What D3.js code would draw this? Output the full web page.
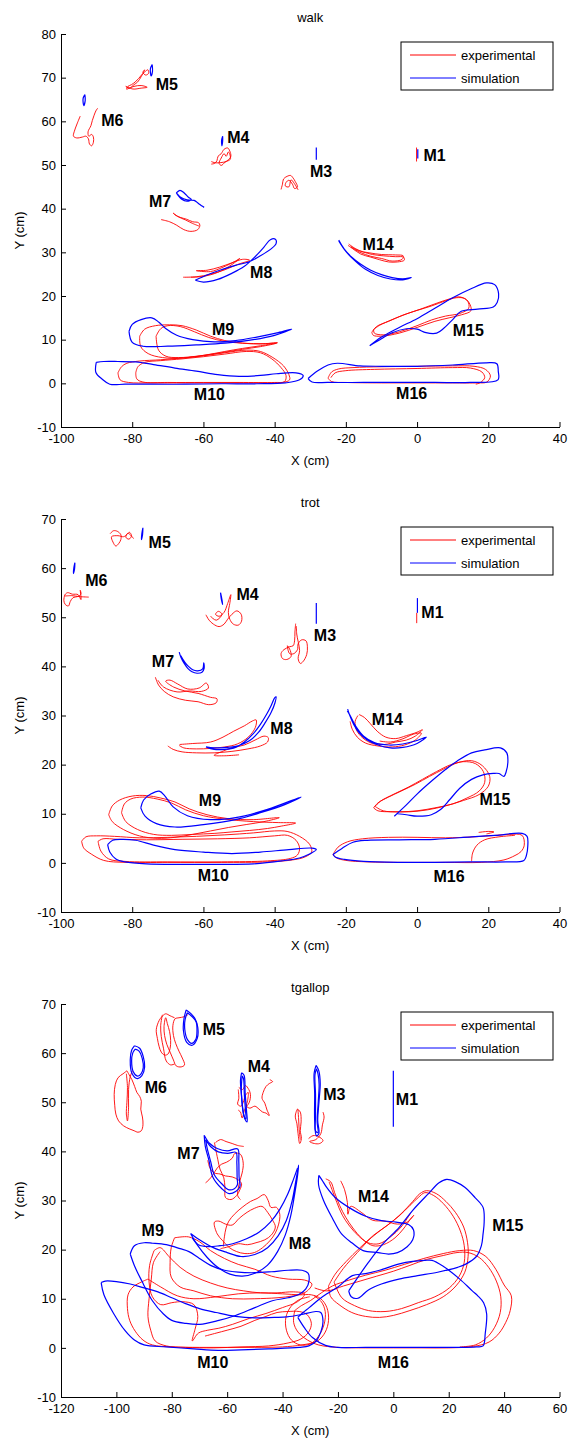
<!DOCTYPE html>
<html>
<head>
<meta charset="utf-8">
<script src="https://cdn.jsdelivr.net/npm/d3@7"></script>
<style>
body { margin: 0; background: #fff; }
text { font-family: "Liberation Sans", Arial, sans-serif; }
</style>
</head>
<body>
<div id="chart"></div>
<script>
// marker trajectories, in cm

// ---------- walk ----------
var walkSim = [
  [[0.2,53.6],[0.2,51.5]],                                                   // M1
  [[-28.3,54.0],[-28.3,51.2]],                                               // M3
  [[-54.6,56.6],[-54.9,55.6],[-54.8,54.4],[-54.6,55.5],[-54.6,56.6]],        // M4
  [[-74.4,73.0],[-74.9,72.0],[-74.7,70.4],[-74.3,71.5],[-74.4,73.0]],        // M5
  [[-93.3,66.1],[-93.8,65.2],[-93.6,63.6],[-93.2,64.8],[-93.3,66.1]],        // M6
  [[-67.6,43.6],[-66.6,44.2],[-65.4,43.6],[-64.2,42.6],[-63.4,42.1],[-64.6,41.7],[-66.2,42.2],[-67.6,43.6],
   [-66.4,42.6],[-64.6,42.0],[-62.6,41.9],[-61.4,41.2],[-60.4,40.6],[-59.8,40.3]],   // M7
  [[-62.3,23.6],[-60,23.2],[-56,23.8],[-52,25.2],[-48.5,26.8],[-45.5,29.0],[-43.0,31.2],[-41.2,32.9],
   [-39.8,33.0],[-39.6,32.0],[-41,30.8],[-44,29.2],[-47,27.9],[-51,27.0],[-55,26.0],[-59,24.8],[-62.3,23.6]], // M8
  [[-80.9,11.9],[-80,13.5],[-77.5,14.6],[-74.5,15.0],[-72.5,14.0],[-70.5,12.5],[-67.5,11.0],[-63,10.0],[-57,9.5],
   [-51,9.8],[-45,10.6],[-39,11.6],[-35.2,12.4],[-40,11.0],[-46,10.0],[-54,9.2],[-62,8.8],[-70,8.5],[-77,8.5],
   [-80,9.4],[-80.9,11.9]],                                                  // M9
  [[-90.1,4.8],[-88,5.0],[-84,5.0],[-79,4.9],[-74,4.3],[-68,3.5],[-62,2.8],[-56,2.0],[-50,1.6],[-44,1.8],
   [-39.5,2.2],[-34,2.4],[-32,1.8],[-33,0.8],[-37,0.1],[-45,-0.1],[-55,-0.1],[-65,-0.2],[-75,-0.2],[-82,-0.2],
   [-86.3,-0.2],[-88.5,1.0],[-90.2,2.5],[-90.1,4.8]],                        // M10
  [[-22.0,32.8],[-20.5,30.8],[-18.5,29.0],[-16,27.4],[-13,25.9],[-10,24.9],[-7,24.2],[-4,23.9],[-1.6,24.2],
   [-4,23.7],[-7.5,23.9],[-11,24.7],[-14.5,26.1],[-17.5,28.1],[-20,30.2],[-22,32.6]],   // M14
  [[-13.3,8.6],[-10,10.6],[-5,12.8],[0,14.8],[5,17.2],[10,19.6],[15,21.6],[19.5,23.0],[21.8,22.6],[22.9,20.5],
   [22.5,18.5],[21.4,17.5],[17,17.0],[12.4,16.5],[10,14.6],[7.5,12.6],[5.5,11.5],[2.5,11.6],[0,12.4],[-3,12.5],
   [-7,11.6],[-10,10.2],[-12.3,9.1],[-13.3,8.6]],                            // M15
  [[-30.6,1.1],[-28,2.8],[-25,4.2],[-22.4,4.6],[-16,4.0],[-10,3.9],[0,3.9],[10,4.2],[19.4,4.7],[22.4,4.5],
   [22.8,2.8],[22.7,0.8],[15,0.2],[5,0.2],[-5,0.2],[-15,0.2],[-25,0.2],[-29.5,0.3],[-30.6,1.1]]   // M16
];
var walkExp = [
  [[-0.15,54.0],[-0.15,50.8]],                                               // M1
  [[-38.2,44.4],[-37.8,45.6],[-37.5,46.8],[-36.5,47.4],[-35.5,47.6],[-34.8,47.0],[-34.2,46.2],[-33.6,45.0],
   [-34.4,44.6],[-35,45.6],[-36,46.5],[-36.8,46.0],[-37.0,45.2],[-36.0,45.0],[-35.4,46.6],[-34.5,45.8],[-33.4,44.3]], // M3
  [[-57.8,50.2],[-56.8,50.4],[-56.2,51.0],[-55.9,52.0],[-55.0,52.6],[-54.2,53.6],[-53.2,53.9],[-52.6,53.2],
   [-52.3,52.0],[-53.0,51.2],[-54.0,50.6],[-55.0,49.9],[-55.6,50.4],[-55.0,51.6],[-54.2,52.6],[-53.6,52.0],
   [-53.0,53.0],[-52.4,51.4],[-53.6,50.8],[-56.6,50.5],[-57.8,50.8]],        // M4
  [[-81.6,67.4],[-81.2,68.0],[-80.2,68.4],[-79.2,69.0],[-78.2,69.8],[-77.4,70.6],[-76.5,71.3],[-75.6,71.8],
   [-75.4,71.0],[-76.2,70.6],[-77.0,71.2],[-76.5,71.8],[-77.5,70.2],[-78.5,69.0],[-79.5,68.4],[-80.8,67.6],
   [-81.8,68.0],[-79.8,67.4],[-77.5,67.6],[-75.8,67.8],[-77.5,68.2],[-79.5,68.0],[-81.6,67.3]],   // M5
  [[-94.6,61.2],[-95.5,59.4],[-96.3,57.6],[-96.5,56.6],[-95.6,56.2],[-94,56.4],[-93,56.6],[-92.3,56.0],
   [-92.0,54.8],[-91.4,54.4],[-90.9,55.2],[-90.9,56.4],[-91.4,57.0],[-92.2,56.6],[-92.4,57.6],[-91.6,59.0],
   [-91.2,60.2],[-90.7,61.4],[-90.2,62.4],[-89.7,63.0]],                     // M6
  [[-71.9,37.5],[-69.5,37.0],[-67.5,36.2],[-65.5,35.2],[-63.5,34.8],[-61.6,35.2],[-61.0,36.2],[-61.4,36.8],
   [-63.0,37.0],[-64.8,37.6],[-66.5,38.0],[-68.0,38.6],[-68.5,39.0],[-67.2,38.2],[-65.0,37.4],[-63.0,36.6],[-61.2,36.0]], // M7
  [[-65.7,24.3],[-62,24.4],[-58,25.0],[-54,26.0],[-50.5,27.2],[-47,28.2],[-49,28.4],[-52,27.6],[-55.5,26.6],
   [-59,25.9],[-62,25.8],[-58,25.6],[-54.5,26.6],[-51,28.0],[-49.8,28.6],[-52,27.2],[-56,25.4],[-60,24.5],[-63.5,24.3]], // M8
  [[-77.9,10.8],[-76.5,12.4],[-73.5,13.2],[-69.5,13.4],[-66,13.2],[-62,12.2],[-58,10.8],[-54,9.8],[-49,9.2],
   [-44,9.0],[-39.2,9.3],[-44,8.6],[-49,8.0],[-54,7.3],[-60,6.4],[-66,5.8],[-71.5,5.9],[-75.5,6.8],[-77.6,8.4],[-77.9,10.8]], // M9
  [[-73.3,10.8],[-72,12.5],[-70,13.2],[-66.5,13.0],[-62.5,11.8],[-58.5,10.5],[-54,9.6],[-49,9.2],[-43,9.1],
   [-39.5,9.2],[-44,8.4],[-49,7.8],[-55,7.0],[-61,6.3],[-67,5.9],[-70.5,6.2],[-72.6,7.6],[-73.3,10.8]],
  [[-84,2.4],[-83,3.8],[-81.5,4.6],[-78,5.1],[-72,5.4],[-66,5.8],[-60,6.3],[-54,7.0],[-48,7.6],[-44,7.3],
   [-40.5,5.9],[-37.5,4.0],[-36.0,2.0],[-35.8,0.8],[-37.8,0.2],[-45,0.1],[-55,0.1],[-65,0.1],[-75,0.1],
   [-81,0.2],[-83.4,0.8],[-84,2.4]],                                         // M10
  [[-79,2.4],[-78.4,3.8],[-76.5,4.8],[-72,5.2],[-66,5.6],[-60,6.1],[-54,6.7],[-48,7.3],[-44,7.0],[-40.8,5.6],
   [-38.2,3.6],[-36.8,1.8],[-37.2,0.4],[-40,0.2],[-50,0.2],[-60,0.2],[-70,0.2],[-77,0.3],[-78.7,1.0],[-79,2.4]],
  [[-19.2,31.9],[-17.2,30.8],[-15.2,30.1],[-12.5,29.5],[-9.5,29.2],[-6,29.0],[-3.8,28.9],[-3.6,28.2],[-5.5,27.8],
   [-8,27.8],[-10.5,28.3],[-13,28.9],[-15.8,29.6],[-18.2,30.9],[-19.4,31.6]],   // M14
  [[-18.6,31.4],[-16.5,30.4],[-13.5,29.9],[-10,29.5],[-6,29.4],[-3.9,29.2],[-4.2,28.4],[-7,28.0],[-10,28.6],
   [-13,29.1],[-16,30.0],[-18.6,31.2]],
  [[-12.7,11.7],[-11.4,13.0],[-8,14.2],[-4,15.6],[0,16.7],[4,17.7],[8,18.9],[11,19.6],[13.5,19.4],[14.9,18.0],
   [15.1,16.6],[12.5,15.7],[9,15.0],[5,14.2],[0,12.8],[-5,11.5],[-10,10.8],[-12.3,11.0],[-12.7,11.7]],   // M15
  [[-12.2,12.3],[-10.5,13.3],[-7,14.6],[-3,15.9],[1,17.0],[5,18.2],[9,19.3],[12,19.8],[14.2,18.8],[14.5,17.2],
   [12,16.0],[8,15.4],[4,14.5],[0,13.2],[-5,11.8],[-9.5,11.1],[-12.0,11.5],[-12.2,12.3]],
  [[-25,1.2],[-24,2.6],[-22,3.3],[-18,3.6],[-10,3.8],[0,3.9],[10,4.0],[16,3.9],[19.2,3.2],[20.6,1.7],[19.6,0.3],
   [17,0.1],[10,0.1],[0,0.1],[-10,0.1],[-20,0.2],[-24,0.4],[-25,1.2]],       // M16
  [[-24.2,1.3],[-23,2.4],[-20,2.9],[-12,3.2],[0,3.4],[10,3.6],[15,3.5],[18.2,2.6],[19,1.3],[17.8,0.2],[16.5,-0.2]]
];
var walkLabels = [["M1",1.8,52.2],["M3",-30.1,48.5],["M4",-53.3,56.3],["M5",-73.4,68.4],["M6",-88.7,60.2],
  ["M7",-75.3,41.8],["M8",-46.9,25.4],["M9",-57.6,12.4],["M10",-62.7,-2.4],["M14",-15.3,31.9],
  ["M15",10,12.2],["M16",-5.9,-2.2]];

// ---------- trot ----------
var trotSim = [
  [[0.1,53.9],[0.1,50.9]],                                                   // M1
  [[-28.3,52.9],[-28.3,48.7]],                                               // M3
  [[-55.2,55.0],[-55.0,53.8],[-54.6,52.6],[-54.8,53.6],[-55.2,55.0]],        // M4
  [[-77.0,68.2],[-77.3,67.0],[-77.4,65.8],[-77.1,66.8],[-77.0,68.2]],        // M5
  [[-96.1,61.1],[-96.4,60.0],[-96.5,58.9],[-96.2,59.8],[-96.1,61.1]],        // M6
  [[-66.8,42.9],[-66.3,41.8],[-65.4,40.6],[-64.4,39.6],[-63.2,38.9],[-61.8,38.6],[-60.4,38.8],[-59.8,39.6],
   [-59.9,40.7],[-60.2,39.5],[-61.6,39.1],[-63.0,39.3],[-64.2,40.0],[-65.2,40.8],[-66.4,42.2]],   // M7
  [[-59.3,23.6],[-57,23.1],[-54,23.1],[-51,23.5],[-48.5,24.6],[-46,26.3],[-44,28.2],[-42.3,30.2],[-41,32.0],
   [-40,33.6],[-39.6,33.8],[-39.9,32.6],[-41,30.6],[-42.6,28.6],[-44.5,26.6],[-47,24.9],[-50,23.9],[-53.5,23.5],
   [-57,23.4],[-59.3,23.6]],                                                 // M8
  [[-77.6,11.2],[-76.8,12.8],[-74.8,14.0],[-72.4,14.6],[-70.8,13.6],[-68.5,11.4],[-64.5,9.6],[-58,8.8],[-51,9.2],
   [-42,10.9],[-32.6,13.4],[-37,11.9],[-44,10.2],[-51,8.8],[-60,7.8],[-68,7.3],[-73.2,8.0],[-76.4,9.5],[-77.6,11.2]], // M9
  [[-86.9,3.7],[-85.5,4.6],[-83,4.8],[-79,4.6],[-74,3.6],[-68,2.7],[-60,2.2],[-52,1.9],[-44,2.2],[-36,2.7],
   [-29.5,3.0],[-28.3,2.7],[-30.2,1.8],[-33,1.0],[-38,0.4],[-46,-0.2],[-56,-0.3],[-66,-0.3],[-76,-0.2],
   [-82,0.2],[-84.6,0.8],[-86.3,2.2],[-86.9,3.7]],                           // M10
  [[-19.5,31.3],[-19.0,30.2],[-17.8,28.2],[-16.2,26.4],[-14,25.0],[-11,24.0],[-7.5,23.4],[-4,23.5],[0,24.3],
   [2.6,25.6],[-0.5,24.8],[-4,24.2],[-8,24.0],[-12,24.5],[-15,25.8],[-17.2,27.8],[-18.8,30.0],[-19.6,31.0]], // M14
  [[-6.4,9.5],[-3,11.8],[0,14.0],[4,16.6],[8,19.0],[11.2,20.7],[15.3,22.4],[19,23.0],[23.4,23.4],[25.2,22.4],
   [25.5,20.5],[25.0,18.5],[24.4,17.6],[23.0,18.2],[21.4,18.2],[18.5,17.9],[15.3,17.0],[12,15.2],[9.2,12.9],
   [6.5,10.8],[4,9.8],[0,9.5],[-3,9.8],[-5.5,10.0]],                         // M15
  [[-23.6,1.7],[-21,3.0],[-18,4.2],[-14,4.6],[-5,4.7],[5,4.8],[15.3,5.3],[22,5.6],[29.5,6.0],[30.9,5.4],
   [31.1,3.5],[30.7,1.5],[30,0.5],[25,0.2],[15,0.2],[5,0.1],[-5,0.1],[-15,0.3],[-20.4,0.7],[-23.0,1.2],[-23.6,1.7]] // M16
];
var trotExp = [
  [[-0.1,50.9],[-0.1,48.8]],                                                 // M1
  [[-34.1,48.7],[-34.3,47.0],[-34.4,45.2],[-34.8,44.2],[-35.8,44.0],[-37.4,43.4],[-38.2,42.6],[-37.8,41.6],
   [-36.6,41.4],[-35.4,42.0],[-35.6,43.2],[-36.4,44.2],[-35.8,42.6],[-34.6,42.6],[-33.6,43.4],[-33.4,44.6],
   [-32.4,45.4],[-31.2,45.2],[-30.8,44.0],[-31.0,42.4],[-32.0,41.0],[-32.8,40.6],[-33.4,41.6],[-33.0,43.2],
   [-33.8,46.6],[-33.9,48.2]],                                               // M3
  [[-59.3,50.5],[-58.4,49.4],[-57.2,48.6],[-55.6,48.1],[-54.2,48.6],[-53.2,49.6],[-52.0,50.6],[-50.6,51.3],
   [-49.4,50.6],[-49.3,49.2],[-50.2,48.4],[-51.6,48.6],[-52.6,49.6],[-53.0,51.0],[-52.6,52.8],[-52.3,54.6],
   [-53.2,52.8],[-54.2,51.0],[-55.6,50.2],[-56.6,50.6],[-55.8,51.2],[-54.8,50.6],[-56.4,49.4],[-58.0,50.2]], // M4
  [[-86.2,67.0],[-85.3,67.6],[-84.2,67.5],[-83.2,66.8],[-83.2,65.8],[-83.8,65.0],[-84.6,64.5],[-85.4,65.3],
   [-85.8,66.4],[-84.0,66.6],[-82.4,66.4],[-81.4,66.9],[-80.8,67.3],[-80.2,66.6],[-80.9,65.9],[-81.8,66.3],
   [-81.2,67.1],[-79.6,66.0]],                                               // M5
  [[-99.0,54.4],[-99.2,53.4],[-98.8,52.6],[-97.9,52.3],[-97.4,53.2],[-96.6,54.0],[-95.4,54.2],[-94.4,54.7],
   [-94.6,55.5],[-94.4,53.6],[-95.2,54.6],[-96.8,54.7],[-98.2,55.0],[-99.0,54.4],[-97.0,54.4],[-94.8,54.2],[-92.2,54.1]], // M6
  [[-73.5,37.8],[-72.6,36.2],[-71,34.9],[-68.5,33.8],[-65,33.1],[-61.5,32.8],[-58.5,32.2],[-56.4,32.6],
   [-56.2,33.4],[-58,33.7],[-61.5,34.5],[-65.2,35.0],[-68.4,35.8],[-70.6,37.0],[-69.4,37.2],[-67.2,36.4],
   [-64.4,35.4],[-61.2,35.6],[-59.2,36.6],[-58.6,35.6],[-60.6,34.9],[-64,35.0],[-67.4,34.8],[-71.2,35.8],[-72.8,37.2]], // M7
  [[-66.7,24.1],[-63,24.3],[-58,24.6],[-54.5,25.6],[-51.5,26.8],[-48.5,27.9],[-46.2,28.9],[-45.2,29.1],
   [-45.4,27.6],[-47.4,25.6],[-50.5,24.2],[-54,23.6],[-58,23.3],[-62,23.2],[-65.5,23.4],[-66.8,23.9]],   // M8
  [[-70,23.8],[-68.5,23.1],[-66,22.6],[-62,22.4],[-57,22.4],[-52,22.7],[-47.5,23.2],[-44,23.8],[-42,24.6],
   [-41.8,25.5],[-43,25.8],[-45.5,25.0],[-48.5,24.0],[-52,23.4],[-55,22.6],[-57,21.9],[-54,21.8],[-50,22.0]],
  [[-86.6,9.8],[-85.6,11.6],[-83.5,12.8],[-80,13.6],[-76,13.7],[-72,13.2],[-68,12.4],[-64,11.0],[-59,9.8],
   [-53,9.0],[-46,8.8],[-38.7,9.2],[-43,8.4],[-48,7.8],[-53,7.2],[-58,6.5],[-63,5.8],[-68,5.2],[-73,5.0],
   [-78,5.5],[-82.5,6.8],[-85.6,8.4],[-86.6,9.8]],                           // M9
  [[-83,10.2],[-82.2,12.0],[-80.4,13.0],[-77,13.4],[-73,13.0],[-69,12.2],[-65,10.8],[-60,9.6],[-54,8.9],
   [-46,8.4],[-39,8.2],[-34.1,8.1],[-38,7.5],[-42,7.0],[-47,6.6],[-52,6.3],[-57,6.0],[-63,5.8],[-69,5.6],
   [-74,5.8],[-78.5,6.8],[-81.8,8.4],[-83,10.2]],
  [[-94.2,4.4],[-93,5.3],[-90,5.5],[-85,5.4],[-78,5.1],[-70,5.2],[-62,5.4],[-54,5.7],[-46,6.1],[-40,6.5],
   [-36.5,6.4],[-33,5.4],[-30.2,3.8],[-29.6,2.2],[-31.5,1.2],[-35,0.6],[-42,0.2],[-55,0.1],[-70,0.1],[-82,0.1],
   [-88,0.5],[-91.5,1.8],[-93.6,3.0],[-94.2,4.4]],                           // M10
  [[-89.6,4.4],[-88.2,4.9],[-84,4.8],[-76,4.7],[-66,4.8],[-56,4.9],[-47,5.1],[-40,5.5],[-36.4,5.6],[-34,4.6],
   [-33,3.0],[-33.6,1.6],[-35.6,0.9],[-42,0.4],[-55,0.2],[-70,0.2],[-82,0.3],[-86.6,0.8],[-88.8,2.4],[-89.6,4.4]],
  [[-16.3,30.2],[-14.8,29.6],[-13.2,28.4],[-11.2,26.8],[-8.8,25.6],[-6,25.3],[-3,25.9],[0,26.6],[1.5,27.1],
   [-0.5,25.8],[-3,25.0],[-6,24.6],[-9.2,24.1],[-12.5,24.3],[-15.2,25.4],[-17.0,27.0],[-17.4,28.8],[-16.6,30.0]], // M14
  [[-18.8,28.8],[-18.2,27.2],[-16.8,25.6],[-14.5,24.4],[-11,23.8],[-7,23.6],[-3.5,24.0],[-0.5,25.0],[1.2,26.4],
   [-1,26.2],[-4.2,25.2],[-7.5,24.6],[-10.5,24.8]],
  [[-12.2,11.2],[-11.0,12.2],[-8,13.4],[-4.5,14.6],[-0.5,16.0],[3.5,17.6],[7.5,19.1],[11.5,20.4],[15.3,20.8],
   [18.3,19.8],[20.4,17.6],[20.0,15.6],[17.4,13.9],[13,12.7],[8,11.6],[3,10.8],[-2,10.4],[-7,10.4],[-11,10.6],[-12.2,11.2]], // M15
  [[-11.8,11.5],[-10.2,12.6],[-6.5,14.0],[-2.5,15.4],[1.5,17.0],[5.5,18.6],[9.5,20.0],[13,20.6],[16.4,20.2],
   [18.6,18.6],[19.0,16.4],[17.4,14.6],[14,13.2],[10,12.0],[5,11.2],[0,10.6],[-5,10.4],[-9.5,10.6],[-11.8,11.5]],
  [[-23.6,1.7],[-22.2,3.2],[-19.5,4.3],[-15.3,4.9],[-8,5.2],[0,5.2],[8,5.1],[16,5.3],[22,5.6],[26,5.8],[29.5,5.6],
   [30.1,3.6],[29.2,2.3],[27.5,1.5],[24.4,0.6],[18,0.1],[8,0.1],[-4,0.1],[-14,0.2],[-20,0.5],[-22.6,1.0],[-23.6,1.7]], // M16
  [[15.3,0.3],[15.6,2.0],[16.8,3.6],[19.0,4.7],[23,5.3],[27.5,5.6]],
  [[17.3,6.2],[20,6.4],[21.6,6.3],[19.5,5.9]]
];
var trotLabels = [["M1",1.2,51],["M3",-29,46.3],["M4",-50.7,54.7],["M5",-75.4,65.3],["M6",-93.2,57.5],
  ["M7",-74.5,41],["M8",-41.2,27.5],["M9",-61.3,12.7],["M10",-61.6,-2.6],["M14",-12.7,29.3],
  ["M15",17.5,12.9],["M16",4.6,-2.7]];

// ---------- tgallop ----------
var gallopSim = [
  [[0,56.4],[0,45.0]],                                                       // M1
  [[-27.9,57.5],[-26.9,56.4],[-26.4,53.8],[-26.8,50.4],[-27.3,46.3],[-26.9,43.6],[-27.8,43.2],[-28.4,46.3],
   [-28.4,51.8],[-28.6,55.9],[-27.9,57.5]],                                  // M3
  [[-27.8,56.8],[-27.2,55.8],[-26.8,53.6],[-27.1,50.2],[-27.5,46.0],[-27.2,43.8],[-28.1,44.2],[-28.1,47.0],
   [-28.1,51.6],[-28.3,55.6],[-27.8,56.8]],
  [[-54.8,56.0],[-53.9,55.5],[-53.5,51.8],[-53.0,48.2],[-52.8,46.0],[-53.6,46.6],[-54.4,48.6],[-54.8,51.2],
   [-55.2,54.4],[-54.8,56.0]],                                               // M4
  [[-54.6,55.4],[-54.1,54.8],[-53.8,51.6],[-53.4,48.4],[-53.2,46.6],[-53.9,47.2],[-54.5,49.4],[-54.9,52.4],[-54.6,55.4]],
  [[-74.8,68.8],[-73.0,68.0],[-71.6,67.0],[-70.6,65.2],[-70.8,63.0],[-72.6,61.6],[-74.6,62.2],[-75.8,64.6],
   [-75.6,67.0],[-74.8,68.8]],                                               // M5
  [[-74.4,68.2],[-72.6,67.4],[-71.2,66.4],[-70.9,64.6],[-71.3,62.8],[-72.8,62.0],[-74.4,62.8],[-75.3,64.8],
   [-75.2,66.8],[-74.4,68.2]],
  [[-93.5,61.5],[-91.6,61.0],[-90.3,59.3],[-89.8,57.2],[-90.8,55.4],[-92.4,54.8],[-94.4,55.9],[-95.0,58.6],
   [-94.5,60.6],[-93.5,61.5]],                                               // M6
  [[-93.2,60.8],[-91.8,60.4],[-90.7,59.0],[-90.3,57.0],[-91.1,55.8],[-92.4,55.3],[-93.9,56.2],[-94.5,58.4],
   [-94.1,60.0],[-93.2,60.8]],
  [[-68.3,43.3],[-66.3,41.6],[-63.6,40.6],[-60,40.1],[-56.2,40.5],[-55.8,38.0],[-55.7,34.8],[-55.4,32.8],
   [-56.8,31.9],[-59.3,31.4],[-61.9,32.4],[-65.2,34.8],[-66.6,38.2],[-67.9,41.0],[-68.3,43.3]],   // M7
  [[-67.8,42.4],[-65.8,40.9],[-63.2,39.9],[-59.8,39.6],[-56.8,39.8],[-56.5,37.6],[-56.4,34.6],[-56.3,33.2],
   [-57.4,32.4],[-59.6,32.2],[-61.6,33.2],[-64.6,35.2],[-66.0,38.0],[-67.2,40.6],[-67.8,42.4]],
  [[-73.2,23.3],[-70.6,20.8],[-67.2,18.4],[-63.4,16.4],[-59.0,15.0],[-54.5,14.6],[-50.0,15.2],[-45.5,16.8],
   [-41.8,19.6],[-39.0,23.0],[-37.0,27.0],[-35.6,31.4],[-34.6,35.0],[-34.2,37.2],[-35.2,34.0],[-36.6,29.8],
   [-38.6,26.0],[-41.6,22.8],[-45.4,20.4],[-50.0,19.0],[-55.0,18.6],[-60.0,19.4],[-65.0,20.4],[-70.0,22.0],[-73.2,23.3]], // M8
  [[-72.6,22.4],[-70.4,21.0],[-66.8,20.6],[-62.6,20.8],[-58.0,21.2],[-53.0,22.2],[-48.4,23.6],[-44.4,25.6],
   [-41.0,28.2],[-38.2,31.2],[-36.0,34.4],[-34.6,36.6]],
  [[-95,19.1],[-93.5,20.8],[-90,21.4],[-86.9,21.3],[-82,21.0],[-77,20.2],[-73.8,19.6],[-70,18.2],[-66,16.8],
   [-61,15.8],[-56,15.4],[-50,15.3],[-44,15.5],[-38,15.8],[-33,15.8],[-30.8,15.2],[-30.4,13.8],[-31.6,12.0],
   [-34,10.9],[-38,10.2],[-43.7,9.6],[-50,8.2],[-57,6.6],[-63,5.6],[-69.9,4.8],[-75,5.0],[-80,5.6],[-83,6.9],
   [-87,9.6],[-90.9,13.7],[-93.4,16.6],[-95,19.1]],                          // M9
  [[-105.5,13.3],[-104,13.6],[-100,13.5],[-95,13.0],[-90,12.2],[-85,11.4],[-80,10.2],[-75,9.0],[-70,8.0],
   [-64,7.2],[-57,6.4],[-50,6.1],[-43,6.2],[-38.4,6.3],[-33,6.8],[-28,7.4],[-26.2,7.2],[-25.4,5.4],[-26.2,3.2],
   [-27.9,1.4],[-30.5,0.4],[-34,0.1],[-45,-0.2],[-55,-0.4],[-63.3,-0.5],[-72,-0.2],[-82,0.2],[-90,0.6],
   [-93.5,1.6],[-97,3.6],[-101,7.0],[-104.5,10.8],[-105.5,13.3]],            // M10
  [[-26.9,35.1],[-25.8,34.2],[-24,32.6],[-21,30.6],[-16.1,28.6],[-10,26.8],[-4.3,25.9],[1,25.6],[5.5,25.1],
   [7.3,24.0],[7.0,22.0],[5.0,20.6],[1.5,19.4],[-1.7,19.1],[-5.5,19.4],[-10.9,19.8],[-15,21.4],[-18.7,23.2],
   [-22,26.4],[-25.2,30.0],[-27.0,33.2],[-26.9,35.1]],                       // M14
  [[-16.1,11.6],[-13,14.2],[-9,17.4],[-4,21.0],[2.2,24.6],[7,28.0],[12.7,31.4],[16.5,33.6],[19.3,34.3],
   [22.5,33.8],[25.8,32.7],[29.5,30.6],[32.4,28.6],[32.8,25.6],[32.4,23.2],[31.8,20.8],[30,18.6],[26,17.0],
   [23.2,16.4],[16,15.4],[8.8,14.7],[2,14.0],[-4.3,13.0],[-9,11.8],[-12.8,10.1],[-15.2,10.4],[-16.1,11.6]], // M15
  [[-34.5,6.2],[-32,4.0],[-29.2,2.1],[-24.5,0.5],[-20.1,0.1],[-10,0.1],[0,0.1],[12.7,0.1],[22,0.1],[30,0.2],
   [32.4,0.4],[33.2,3.0],[33.7,6.9],[32.6,9.2],[30.5,10.6],[28.5,11.6],[24,14.0],[18,16.6],[14,17.8],[11.4,17.8],
   [7,17.6],[2.2,17.1],[-5,15.8],[-10,15.1],[-14.8,14.7],[-20,12.4],[-24,11.0],[-27,9.8],[-30.4,8.2],
   [-32.6,7.2],[-34.5,6.2]]                                                  // M16
];
var gallopExp = [
  [[-34.6,48.6],[-33.6,48.0],[-33.3,46.0],[-33.6,44.2],[-33.2,42.6],[-33.8,41.6],[-34.4,43.6],[-34.8,45.6],
   [-35.4,47.2],[-34.6,48.6],[-34.2,46.6],[-34.0,44.4],[-33.6,42.4]],        // M3
  [[-30.6,42.6],[-29,43.2],[-27,43.0],[-25.4,42.2],[-26.6,41.6],[-28.5,41.6],[-30.2,42.0],[-28,42.4],
   [-26.2,43.6],[-25.6,45.4],[-25.0,47.0],[-25.4,48.0]],
  [[-56.0,52.6],[-55.8,50.8],[-56.2,49.6],[-55.0,49.2],[-54.2,50.0],[-53.4,51.4],[-52.4,52.0],[-52.6,50.4],
   [-53.0,49.2],[-51.8,48.8],[-50.0,49.2],[-48.5,48.6],[-47.2,48.0],[-46.0,47.8],[-44.8,47.3],[-45.6,48.4],
   [-46.4,49.8],[-47.4,50.8],[-47.0,52.0],[-46.0,53.2],[-44.8,53.8],[-43.6,54.2],[-44.6,54.6]],   // M4
  [[-56.0,48.4],[-55.2,48.0],[-54.6,46.8],[-53.6,48.6],[-52.0,50.0],[-51.6,51.6],[-52.2,52.6],[-53.4,53.4],
   [-54.4,52.6],[-55.8,53.0]],
  [[-79.0,67.2],[-80.6,67.6],[-82.2,68.0],[-83.6,67.4],[-84.6,66.6],[-85.6,64.8],[-85.2,63.0],[-84.6,61.4],
   [-83.8,60.2],[-82.6,59.6],[-81.4,59.8],[-80.6,61.0],[-80.4,62.6],[-80.8,64.4],[-81.6,66.0],[-82.2,67.2],
   [-82.8,65.4],[-82.6,63.6],[-81.8,61.8],[-80.6,60.2],[-79.4,58.6],[-78.4,57.4],[-76.6,57.2],[-75.4,57.6],
   [-76.2,59.0],[-77.4,60.4],[-78.6,62.0],[-79.4,63.6],[-79.6,65.6],[-78.8,67.0],[-77.4,67.2],[-75.6,67.4],[-74.2,67.8]], // M5
  [[-83.4,67.8],[-84.0,65.6],[-83.8,63.4],[-83.0,61.0],[-82.0,58.4],[-80.4,57.6],[-79.0,57.8]],
  [[-96.2,56.4],[-97.6,55.8],[-99.4,55.0],[-100.4,53.6],[-100.8,51.6],[-100.6,49.4],[-100.2,47.6],[-99.2,46.2],
   [-97.4,45.2],[-95.4,44.6],[-93.6,44.2],[-92.2,43.9],[-91.0,44.2],[-90.4,45.4],[-90.6,47.0],[-91.2,48.6],
   [-91.0,50.2],[-91.6,51.2],[-92.6,52.0],[-93.4,53.2],[-94.4,54.6],[-95.4,55.6],[-96.2,56.4]],   // M6
  [[-96.4,55.8],[-96.0,53.0],[-96.2,50.0],[-96.4,47.6],[-96.0,46.2],[-95.6,49.0],[-95.6,52.6],[-95.0,55.2],[-94.2,56.4]],
  [[-64.2,41.8],[-62.4,42.4],[-60.4,42.0],[-58.2,41.6],[-56.2,41.2],[-54.0,41.0]],   // M7
  [[-67.0,38.2],[-66.2,36.6],[-64.6,35.6],[-62.6,35.4],[-60.6,35.0],[-58.2,34.8],[-56.0,34.2],[-54.8,33.4],
   [-55.4,32.2],[-56.6,31.0],[-58.6,30.2],[-60.6,30.6],[-60.8,32.6],[-61.2,34.6],[-62.6,36.4],[-63.4,38.4],
   [-64.2,40.6],[-64.6,41.8]],
  [[-67.8,33.6],[-66.6,34.2],[-65.2,35.2],[-63.6,36.6],[-62.0,37.4],[-60.2,37.8],[-58.2,38.6],[-57.2,39.6],
   [-55.2,39.4],[-54.2,37.6],[-54.6,35.6],[-55.6,33.6],[-56.2,31.0],[-55.2,30.2]],
  [[-61.4,20.6],[-61.0,22.6],[-60.4,24.4],[-59.4,25.8],[-57.4,27.2],[-54.6,28.6],[-51.6,29.8],[-49.2,30.4],
   [-46.6,31.2],[-45.2,30.0],[-44.2,28.6],[-42.2,28.6],[-41.0,27.2],[-41.4,25.2],[-42.6,23.4],[-44.6,21.8],
   [-47.2,20.4],[-50.2,19.4],[-53.6,19.2],[-56.6,19.6],[-59.2,20.4],[-61.6,21.8],[-63.6,23.2],[-64.6,25.6],
   [-63.0,25.8],[-60.6,25.2],[-58.2,25.0],[-55.6,26.4],[-52.8,27.6],[-50.2,28.4],[-47.4,28.8],[-45.4,27.6],
   [-43.6,26.0],[-42.6,24.6],[-44.0,23.0],[-46.4,22.0],[-49.6,21.4],[-52.6,21.0],[-56.0,21.2],[-59.4,20.6],[-62.4,20.2]], // M8
  [[-79.0,22.4],[-74,22.6],[-70,21.6],[-66,19.8],[-61,18.2],[-56,17.0],[-50,16.0],[-44,14.6],[-38,14.0],
   [-32,13.8],[-29.4,13.0],[-31.5,11.4],[-36,10.6],[-42,10.2],[-50,10.0],[-58,10.0],[-66,10.6],[-72,11.6],
   [-77,12.4],[-80.2,14.4],[-80.6,17.4],[-80.2,20.4],[-79.0,22.4]],          // M9
  [[-86.4,19.8],[-84.2,20.4],[-81.0,18.6],[-77,16.4],[-72,14.6],[-66,13.2],[-60,12.2],[-54,11.6],[-48,11.2],
   [-42,11.2],[-36,11.4],[-32,11.0],[-34.6,9.4],[-40,8.2],[-46,7.0],[-52,6.0],[-58,4.8],[-63,4.0],[-67,3.6],
   [-70.4,3.0],[-72.6,1.4],[-71.6,3.8],[-70.6,6.4],[-72,8.8],[-76,9.4],[-80,9.2],[-84,8.8],[-87,10.4],
   [-88.2,13.4],[-88,16.8],[-86.4,19.8]],
  [[-88.6,14.0],[-91,13.4],[-94,12.4],[-95.8,10.8],[-96,8.0],[-95.2,5.6],[-93.2,3.4],[-90.4,1.6],[-87,0.6],
   [-80,0.2],[-70,0.1],[-60,0.1],[-50,0.1],[-40,0.2],[-33,0.6],[-27.4,1.4],[-24.6,3.2],[-23.4,5.6],[-24.0,8.2],
   [-26.2,10.0],[-29.6,10.8],[-34,10.8],[-40,11.0],[-48,11.2],[-56,11.0],[-64,10.4],[-72,10.0],[-78,10.6],
   [-84,12.4],[-88.6,14.0]],                                                 // M10
  [[-84.2,19.6],[-86.6,17.4],[-87.4,14.0],[-88.2,10.0],[-88.6,6.4],[-87.6,3.6],[-86.0,1.4],[-82,0.4],[-75,0.1],
   [-65,0.0],[-55,0.2],[-45,0.4],[-38,1.0],[-33.4,1.8],[-30.6,3.2],[-29.6,5.0],[-31.2,6.8],[-34,7.4],[-38,7.4],
   [-42,7.2],[-46,6.4],[-50,5.6],[-55,4.4],[-60,3.6],[-64,3.0],[-68,2.4]],
  [[-24.4,34.4],[-22.6,33.8],[-21.2,31.6],[-19.4,29.0],[-17.2,26.6],[-14.6,24.4],[-11.2,22.2],[-7.4,20.8],
   [-3.6,21.0],[0.6,22.4],[3.6,24.2],[6.4,26.4],[7.4,27.0],[5.0,25.6],[1.4,25.2],[-3.0,25.8],[-7.6,26.0],
   [-11.6,27.6],[-15.4,28.8],[-16.4,27.2],[-16.6,29.6],[-17.6,32.2],[-19.0,34.0]],   // M14
  [[-23.2,33.8],[-22.0,32.0],[-20.4,29.6],[-18.4,27.0],[-15.8,24.8],[-12.6,22.8],[-9.2,21.4],[-5.2,21.2],
   [-1.0,22.6],[2.8,24.6],[6.2,27.4]],
  [[-23.4,12.6],[-21,15.0],[-17,17.6],[-12,20.4],[-7,23.0],[-2,25.0],[3,27.4],[7,29.8],[9.6,31.4],[12,32.0],
   [15.5,31.4],[19,29.8],[22.4,27.6],[25.4,24.6],[26.8,21.4],[27.0,18.6],[25.8,15.4],[22.6,12.6],[18,10.4],
   [12,8.8],[6,7.6],[0,6.6],[-5,6.2],[-10,6.4],[-15,7.2],[-19.6,8.8],[-22.6,10.4],[-23.4,12.6]],   // M15
  [[-21.4,13.4],[-18,16.2],[-13,19.4],[-8,22.4],[-3,24.6],[2,26.8],[6,29.0],[9,30.6],[11.4,31.6],[14.6,31.0],
   [18,29.4],[21.6,26.8],[24.2,23.8],[25.6,20.8],[25.6,17.4],[23.8,14.6],[20.2,12.2],[15,10.4],[9,9.2],[3,8.0],
   [-3,7.4],[-9,7.6],[-14,8.6],[-18.6,10.2],[-21.4,13.4]],
  [[-35.6,7.6],[-33.2,8.6],[-30.0,9.6],[-26,11.2],[-22,12.6],[-16,13.8],[-10,14.8],[-3,15.8],[4,17.0],[11,18.2],
   [18,19.2],[24,19.8],[29,19.8],[33.4,18.6],[37,16.0],[40,12.8],[42.6,10.6],[42.2,7.6],[40.6,5.2],[38.2,3.0],
   [34.6,1.2],[29,0.3],[20,0.0],[10,0.0],[0,0.0],[-10,0.0],[-20,0.1],[-27,0.6],[-31,1.6],[-34.4,3.2],
   [-36.0,5.2],[-35.6,7.6]],                                                 // M16
  [[-28.4,12.2],[-24,11.6],[-18,12.6],[-12,13.6],[-6,14.6],[0,15.6],[6,16.8],[12,18.0],[18,18.8],[23,19.4],
   [27,19.4],[31,18.4],[34.4,16.4],[37.2,13.6],[38.8,10.4],[38.6,7.2],[36.6,4.2],[33.6,2.0],[29.6,0.6],[24,0.2]],
  [[-30.2,10.4],[-34,9.8],[-37,8.4],[-38.8,6.2],[-38.6,3.6],[-36.8,1.6],[-33.6,0.6],[-30,0.8],[-27.0,2.4],
   [-25.0,4.8],[-24.6,7.4],[-26,9.4],[-28.6,10.6]]
];
var gallopLabels = [["M1",0.9,50.7],["M3",-25.3,51.6],["M4",-52.6,57.3],["M5",-68.8,64.8],["M6",-89.8,53],
  ["M7",-78,39.7],["M8",-37.8,21.2],["M9",-90.9,23.9],["M10",-70.8,-2.9],["M14",-12.8,30.8],
  ["M15",35.7,24.9],["M16",-5.6,-2.9]];

// axes ticks
var walkXTicks = [-100,-80,-60,-40,-20,0,20,40];
var walkYTicks = [-10,0,10,20,30,40,50,60,70,80];
var trotXTicks = [-100,-80,-60,-40,-20,0,20,40];
var trotYTicks = [-10,0,10,20,30,40,50,60,70];
var gallopXTicks = [-120,-100,-80,-60,-40,-20,0,20,40,60];
var gallopYTicks = [-10,0,10,20,30,40,50,60,70];
var legendNames = ["experimental", "simulation"];

var panels = [
  {title: "walk", top: 34, bottom: 427, xDomain: [-100, 40], yDomain: [-10, 80],
   xTicks: walkXTicks, yTicks: walkYTicks, exp: walkExp, sim: walkSim, labels: walkLabels},
  {title: "trot", top: 519, bottom: 912, xDomain: [-100, 40], yDomain: [-10, 70],
   xTicks: trotXTicks, yTicks: trotYTicks, exp: trotExp, sim: trotSim, labels: trotLabels},
  {title: "tgallop", top: 1004, bottom: 1397, xDomain: [-120, 60], yDomain: [-10, 70],
   xTicks: gallopXTicks, yTicks: gallopYTicks, exp: gallopExp, sim: gallopSim, labels: gallopLabels}
];

var width = 569, height = 1441;
var left = 61, right = 559.5;

var svg = d3.select("#chart").append("svg")
    .attr("width", width)
    .attr("height", height);

panels.forEach(drawPanel);

function drawPanel(p) {
    var x = d3.scaleLinear().domain(p.xDomain).range([left, right]);
    var y = d3.scaleLinear().domain(p.yDomain).range([p.bottom, p.top]);
    var g = svg.append("g");

    var line = d3.line()
        .x(function(d) { return x(d[0]); })
        .y(function(d) { return y(d[1]); })
        .curve(d3.curveCatmullRom.alpha(0.5));

    g.selectAll(".exp").data(p.exp).enter().append("path")
        .attr("class", "exp")
        .attr("d", line)
        .style("fill", "none")
        .style("stroke", "#ff0000")
        .style("stroke-width", 0.9);

    g.selectAll(".sim").data(p.sim).enter().append("path")
        .attr("class", "sim")
        .attr("d", line)
        .style("fill", "none")
        .style("stroke", "#0000ff")
        .style("stroke-width", 1.2);

    // marker names
    g.selectAll(".mlabel").data(p.labels).enter().append("text")
        .attr("x", function(d) { return x(d[1]); })
        .attr("y", function(d) { return y(d[2]); })
        .attr("dy", "0.36em")
        .style("font-size", "16px")
        .style("font-weight", "bold")
        .text(function(d) { return d[0]; });

    // axes, ticks pointing inwards
    var xAxis = d3.axisBottom(x).tickValues(p.xTicks).tickSizeInner(-5).tickSizeOuter(0)
        .tickPadding(7).tickFormat(function(d) { return String(d); });
    var yAxis = d3.axisLeft(y).tickValues(p.yTicks).tickSizeInner(-5).tickSizeOuter(0)
        .tickPadding(5).tickFormat(function(d) { return String(d); });

    var gx = g.append("g").attr("transform", "translate(0," + p.bottom + ")").call(xAxis);
    var gy = g.append("g").attr("transform", "translate(" + left + ",0)").call(yAxis);
    [gx, gy].forEach(function(a) {
        a.selectAll("text").style("font-size", "13px").style("font-family", "'Liberation Sans', Arial, sans-serif").attr("fill", "#000");
        a.selectAll("line, path").attr("stroke", "#000");
    });

    g.append("text")
        .attr("x", (left + right) / 2)
        .attr("y", p.top - 12)
        .attr("text-anchor", "middle")
        .style("font-size", "13px")
        .text(p.title);

    g.append("text")
        .attr("x", (left + right) / 2)
        .attr("y", p.bottom + 38)
        .attr("text-anchor", "middle")
        .style("font-size", "13px")
        .text("X (cm)");

    g.append("text")
        .attr("transform", "translate(24," + ((p.top + p.bottom) / 2) + ") rotate(-90)")
        .attr("text-anchor", "middle")
        .style("font-size", "13px")
        .text("Y (cm)");

    // legend
    var lg = g.append("g").attr("transform", "translate(401," + (p.top + 8) + ")");
    lg.append("rect").attr("width", 152).attr("height", 48)
        .style("fill", "#fff").style("stroke", "#000").style("stroke-width", 1);
    lg.selectAll(".leg").data(legendNames).enter().append("g")
        .attr("transform", function(d, i) { return "translate(0," + (13 + i * 23) + ")"; })
        .each(function(d, i) {
            var row = d3.select(this);
            row.append("line").attr("x1", 9).attr("x2", 55)
                .style("stroke", i === 0 ? "#ff0000" : "#0000ff").style("stroke-width", 1);
            row.append("text").attr("x", 60).attr("dy", "0.35em")
                .style("font-size", "13px").text(d);
        });
}
</script>
</body>
</html>
